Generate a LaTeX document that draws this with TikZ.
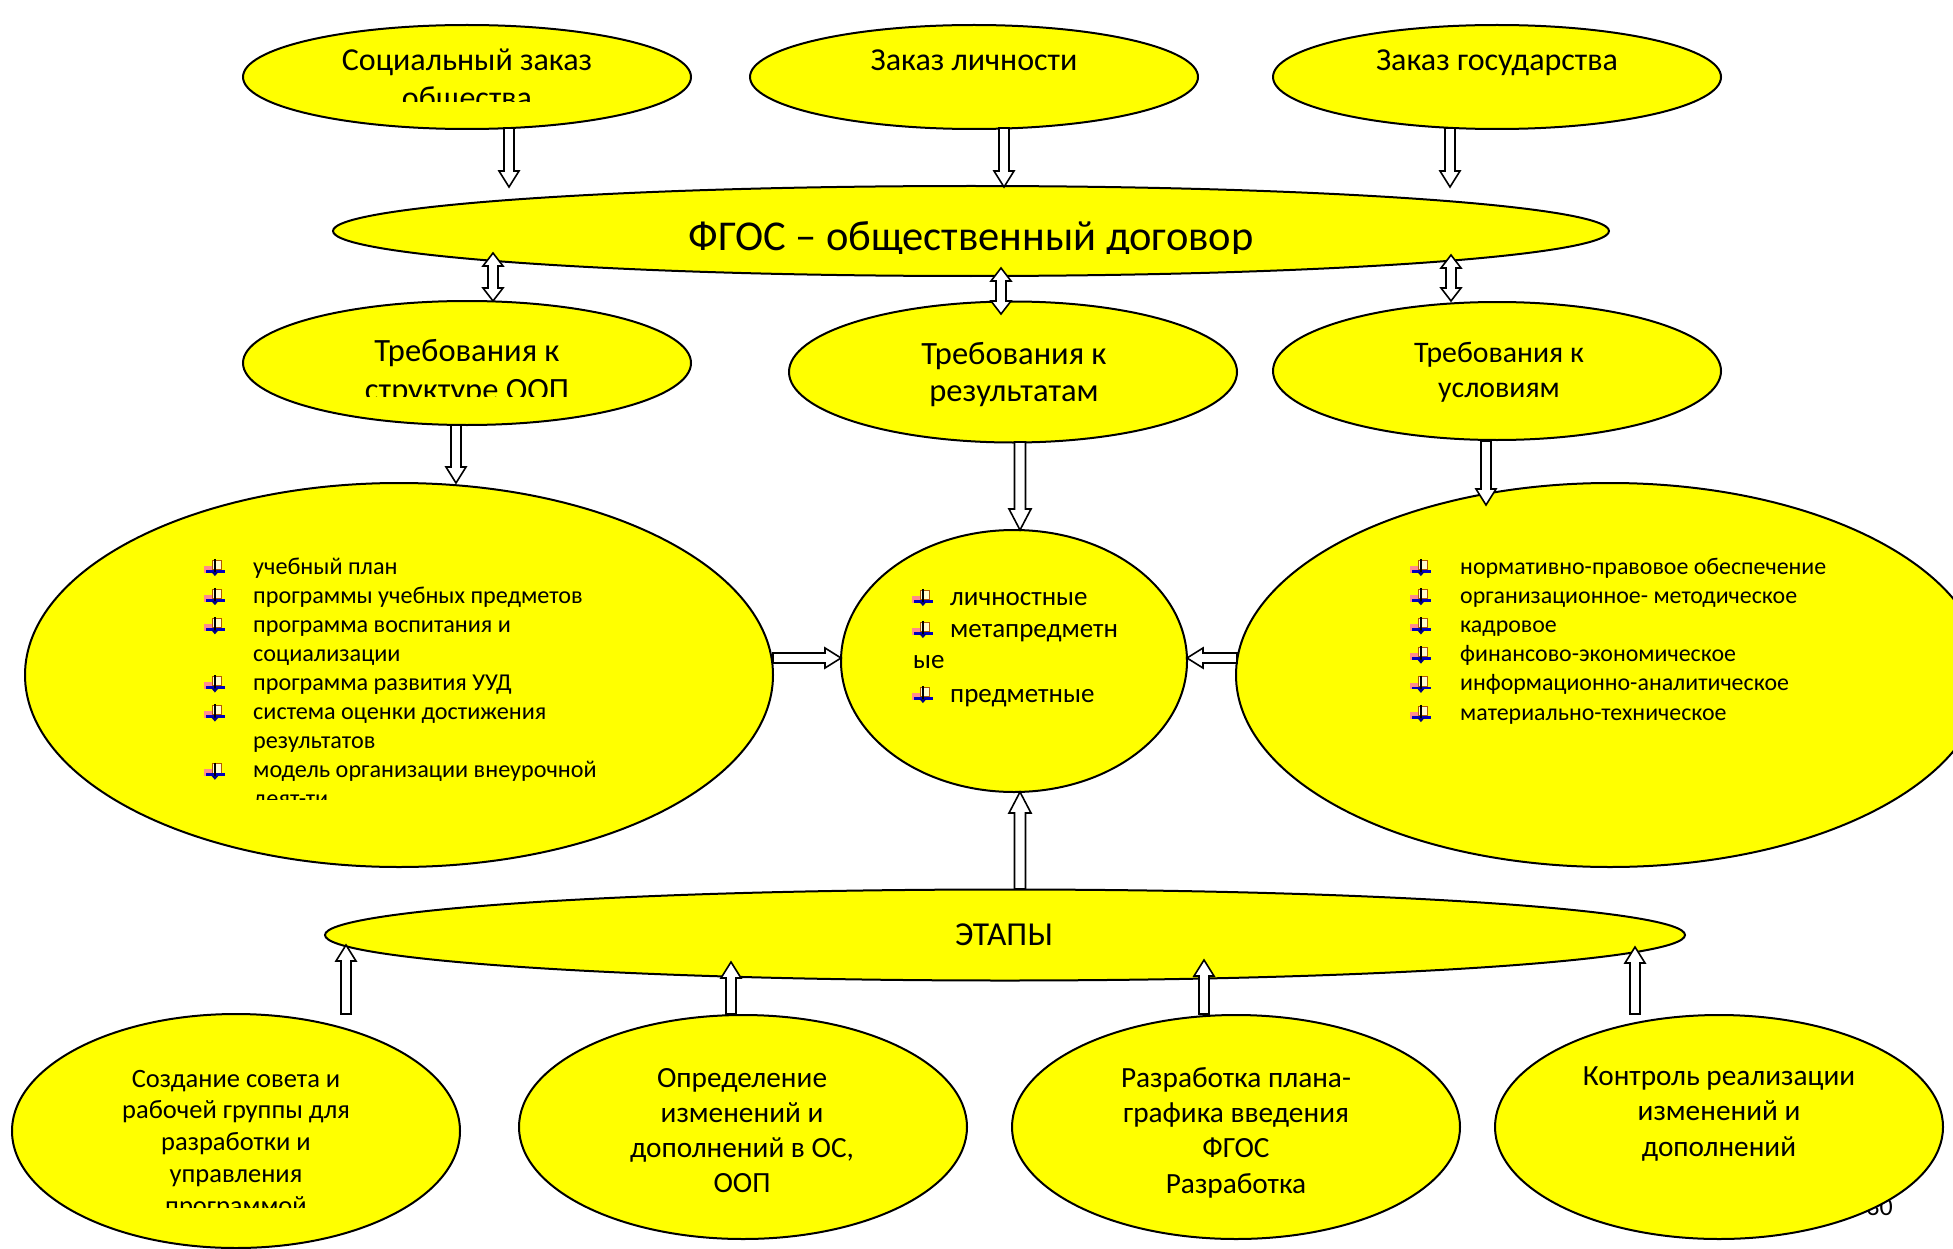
\documentclass[tikz,border=0pt]{standalone}
\usepackage{fontspec}
\setmainfont{Carlito}
\usetikzlibrary{shapes.geometric,calc}
\definecolor{yel}{HTML}{FFFF00}
\newcommand{\fs}[2]{\fontsize{#1}{#2}\selectfont}
\newcommand{\aSW}{5}
\newcommand{\aHW}{10}
% vertical single arrow: #1 tail, #2 tip, #3 head offset (neg for down, pos for up)
\newcommand{\varr}[3]{%
 \draw[blk] ($(#1)+(-\aSW,0)$) -- ($(#1|-#2)+(-\aSW,#3)$) -- ($(#1|-#2)+(-\aHW,#3)$) -- (#1|-#2) -- ($(#1|-#2)+(\aHW,#3)$) -- ($(#1|-#2)+(\aSW,#3)$) -- ($(#1)+(\aSW,0)$) -- cycle;}
% vertical double arrow: #1 upper tip, #2 lower tip, #3 head length
\newcommand{\dvarr}[3]{%
 \draw[blk] (#1) -- ($(#1)+(\aHW,#3)$) -- ($(#1)+(\aSW,#3)$) -- ($(#1|-#2)+(\aSW,-#3)$) -- ($(#1|-#2)+(\aHW,-#3)$) -- (#1|-#2) -- ($(#1|-#2)+(-\aHW,-#3)$) -- ($(#1|-#2)+(-\aSW,-#3)$) -- ($(#1)+(-\aSW,#3)$) -- ($(#1)+(-\aHW,#3)$) -- cycle;}
% horizontal single arrow: #1 tail, #2 tip, #3 head offset (neg for rightward, pos for leftward)
\newcommand{\harr}[3]{%
 \draw[blk] ($(#1)+(0,-\aSW)$) -- ($(#2|-#1)+(#3,-\aSW)$) -- ($(#2|-#1)+(#3,-\aHW)$) -- (#2|-#1) -- ($(#2|-#1)+(#3,\aHW)$) -- ($(#2|-#1)+(#3,\aSW)$) -- ($(#1)+(0,\aSW)$) -- cycle;}
% bullet icon, #1 = top-left corner
\newcommand{\bul}[1]{%
 \begin{scope}[shift={(#1)}, scale=1.15]
  \fill[red!45!white] (0,5) rectangle (8,11);
  \fill[yellow!20!white] (7,0) rectangle (15,8);
  \draw[orange!70!black, line width=0.7] (7,0) rectangle (15,8);
  \fill[blue!75!black] (2,8.5) rectangle (18,11);
  \draw[black, line width=1.5] (9.5,-1) -- (9.5,13);
  \fill[blue!50!black] (6.5,10.5) -- (12.5,10.5) -- (9.5,14) -- cycle;
 \end{scope}}
\tikzset{
 ell/.style={ellipse, draw=black, line width=2, fill=yel, inner sep=0pt},
 blk/.style={draw=black, line width=1.6, fill=white, line join=miter},
 txt/.style={anchor=base, inner sep=0pt, text=black},
 ltxt/.style={anchor=base west, inner sep=0pt, text=black},
}
\begin{document}
\begin{tikzpicture}[x=1pt,y=-1pt]
\useasboundingbox (0,0) rectangle (1953,1249);
\fill[white] (0,0) rectangle (1953,1249);

% page number partly hidden
\node[txt, anchor=base east, font=\fs{26}{30}] (pg) at (1893,1215) {30};

% ---------- ellipses ----------
\node[ell, minimum width=448, minimum height=104] (e1) at (467,77) {};
\node[ell, minimum width=448, minimum height=104] (e2) at (974,77) {};
\node[ell, minimum width=448, minimum height=104] (e3) at (1497,77) {};
\node[ell, minimum width=1276, minimum height=90] (fgos) at (971,231) {};
\node[ell, minimum width=448, minimum height=124] (q1) at (467,363) {};
\node[ell, minimum width=448, minimum height=141] (q2) at (1013,372) {};
\node[ell, minimum width=448, minimum height=138] (q3) at (1497,371) {};
\node[ell, minimum width=748, minimum height=384] (big1) at (399,675) {};
\node[ell, minimum width=346, minimum height=262] (res) at (1014,661) {};
\node[ell, minimum width=748, minimum height=384] (big3) at (1610,675) {};
\node[ell, minimum width=1360, minimum height=91] (etapy) at (1005,935) {};
\node[ell, minimum width=448, minimum height=234] (s1) at (236,1131) {};
\node[ell, minimum width=448, minimum height=224] (s2) at (743,1127) {};
\node[ell, minimum width=448, minimum height=224] (s3) at (1236,1127) {};
\node[ell, minimum width=448, minimum height=224] (s4) at (1719,1127) {};

% ---------- texts ----------
\node[txt, font=\fs{32}{39}] (e1a) at (467,71) {Социальный заказ};
\begin{scope}
 \clip (243,0) rectangle (691,102);
 \node[txt, font=\fs{32}{39}] (e1b) at (467,109) {общества};
\end{scope}
\node[txt, font=\fs{32}{39}] (e2a) at (974,71) {Заказ личности};
\node[txt, font=\fs{32}{39}] (e3a) at (1497,71) {Заказ государства};

\begin{scope}
 \clip (333,180) rectangle (1609,254);
 \node[txt, font=\fs{42.5}{50}] (fgt) at (971,251) {ФГОС – общественный договор};
\end{scope}

\node[txt, font=\fs{32.5}{38}] (q1a) at (467,361) {Требования к};
\begin{scope}
 \clip (243,300) rectangle (691,396);
 \node[txt, font=\fs{32.5}{38}] (q1b) at (467,400) {структуре ООП};
\end{scope}
\node[txt, font=\fs{32.5}{38}] (q2a) at (1014,364) {Требования к};
\node[txt, font=\fs{32.5}{38}] (q2b) at (1014,401) {результатам};
\node[txt, font=\fs{29.8}{35}] (q3a) at (1499,362) {Требования к};
\node[txt, font=\fs{29.8}{35}] (q3b) at (1499,397) {условиям};

% left list
\begin{scope}[every node/.style={ltxt, font=\fs{24.2}{29}}]
 \node (l0) at (253,574) {учебный план};
 \node (l1) at (253,603.1) {программы учебных предметов};
 \node (l2) at (253,632.2) {программа воспитания и};
 \node (l3) at (253,661.3) {социализации};
 \node (l4) at (253,690.4) {программа развития УУД};
 \node (l5) at (253,719.5) {система оценки достижения};
 \node (l6) at (253,748.6) {результатов};
 \node (l7) at (253,777.7) {модель организации внеурочной};
 \begin{scope}
  \clip (200,780) rectangle (700,799);
  \node (l8) at (253,806.8) {деят-ти};
 \end{scope}
\end{scope}
\bul{204,560}
\bul{204,589.1}
\bul{204,618.2}
\bul{204,676.4}
\bul{204,705.5}
\bul{204,763.7}

% center list
\begin{scope}[every node/.style={ltxt, font=\fs{27}{32}}]
 \node (c0) at (950,605) {личностные};
 \node (c1) at (950,637) {метапредметн};
 \node (c2) at (913,668) {ые};
 \node (c3) at (950,702) {предметные};
\end{scope}
\bul{912,590}
\bul{912,622}
\bul{912,687}

% right list
\begin{scope}[every node/.style={ltxt, font=\fs{23.9}{29}}]
 \node (r0) at (1460,574) {нормативно-правовое обеспечение};
 \node (r1) at (1460,603.2) {организационное- методическое};
 \node (r2) at (1460,632.4) {кадровое};
 \node (r3) at (1460,661.6) {финансово-экономическое};
 \node (r4) at (1460,690.8) {информационно-аналитическое};
 \node (r5) at (1460,720) {материально-техническое};
\end{scope}
\bul{1410,560}
\bul{1410,589.2}
\bul{1410,618.4}
\bul{1410,647.6}
\bul{1410,676.8}
\bul{1410,706}

\node[txt, font=\fs{33.5}{40}] (et) at (1004,945) {ЭТАПЫ};

% bottom texts
\begin{scope}[every node/.style={txt, font=\fs{26.5}{32}}]
 \node (s1a) at (236,1087) {Создание совета и};
 \node (s1b) at (236,1118) {рабочей группы для};
 \node (s1c) at (236,1150) {разработки и};
 \node (s1d) at (236,1182) {управления};
 \begin{scope}
  \clip (12,1190) rectangle (460,1207);
  \node (s1e) at (236,1214) {программой};
 \end{scope}
\end{scope}
\begin{scope}[every node/.style={txt, font=\fs{29.3}{35}}]
 \node (s2a) at (742,1087) {Определение};
 \node (s2b) at (742,1122) {изменений и};
 \node (s2c) at (742,1157) {дополнений в ОС,};
 \node (s2d) at (742,1192) {ООП};
 \node (s3a) at (1236,1087) {Разработка плана-};
 \node (s3b) at (1236,1122) {графика введения};
 \node (s3c) at (1236,1157) {ФГОС};
 \node (s3d) at (1236,1193) {Разработка};
 \node (s4a) at (1719,1085) {Контроль реализации};
 \node (s4b) at (1719,1120) {изменений и};
 \node (s4c) at (1719,1156) {дополнений};
\end{scope}

% ---------- connector end points ----------
\coordinate (a1s) at (509,128);  \coordinate (a1t) at (509,187);
\coordinate (a2s) at (1004,128); \coordinate (a2t) at (1004,187);
\coordinate (a3s) at (1450,128); \coordinate (a3t) at (1450,187);
\coordinate (d1a) at (493,253);  \coordinate (d1b) at (493,301);
\coordinate (d2a) at (1001,268); \coordinate (d2b) at (1001,314);
\coordinate (d3a) at (1451,255); \coordinate (d3b) at (1451,301);
\coordinate (r1s) at (456,425);  \coordinate (r1t) at (456,483);
\coordinate (r2s) at (1020,442); \coordinate (r2t) at (1020,530);
\coordinate (r3s) at (1486,441); \coordinate (r3t) at (1486,505);
\coordinate (h1s) at (773,658);  \coordinate (h1t) at (841,658);
\coordinate (h2s) at (1237,658); \coordinate (h2t) at (1187,658);
\coordinate (u0s) at (1020,889); \coordinate (u0t) at (1020,792);
\coordinate (b1s) at (346,1014); \coordinate (b1t) at (346,945);
\coordinate (b2s) at (731,1014); \coordinate (b2t) at (731,962);
\coordinate (b3s) at (1204,1014); \coordinate (b3t) at (1204,960);
\coordinate (b4s) at (1635,1014); \coordinate (b4t) at (1635,947);

% ---------- arrows ----------
\varr{a1s}{a1t}{-16}
\varr{a2s}{a2t}{-16}
\varr{a3s}{a3t}{-16}
\dvarr{d1a}{d1b}{13}
\dvarr{d2a}{d2b}{13}
\dvarr{d3a}{d3b}{13}
\varr{r1s}{r1t}{-16}
\varr{r3s}{r3t}{-16}
\harr{h1s}{h1t}{-16}
\harr{h2s}{h2t}{16}
\varr{b1s}{b1t}{16}
\varr{b2s}{b2t}{16}
\varr{b3s}{b3t}{16}
\varr{b4s}{b4t}{16}
\renewcommand{\aSW}{5.5}
\renewcommand{\aHW}{11}
\varr{r2s}{r2t}{-21}
\varr{u0s}{u0t}{21}
\end{tikzpicture}
\end{document}
